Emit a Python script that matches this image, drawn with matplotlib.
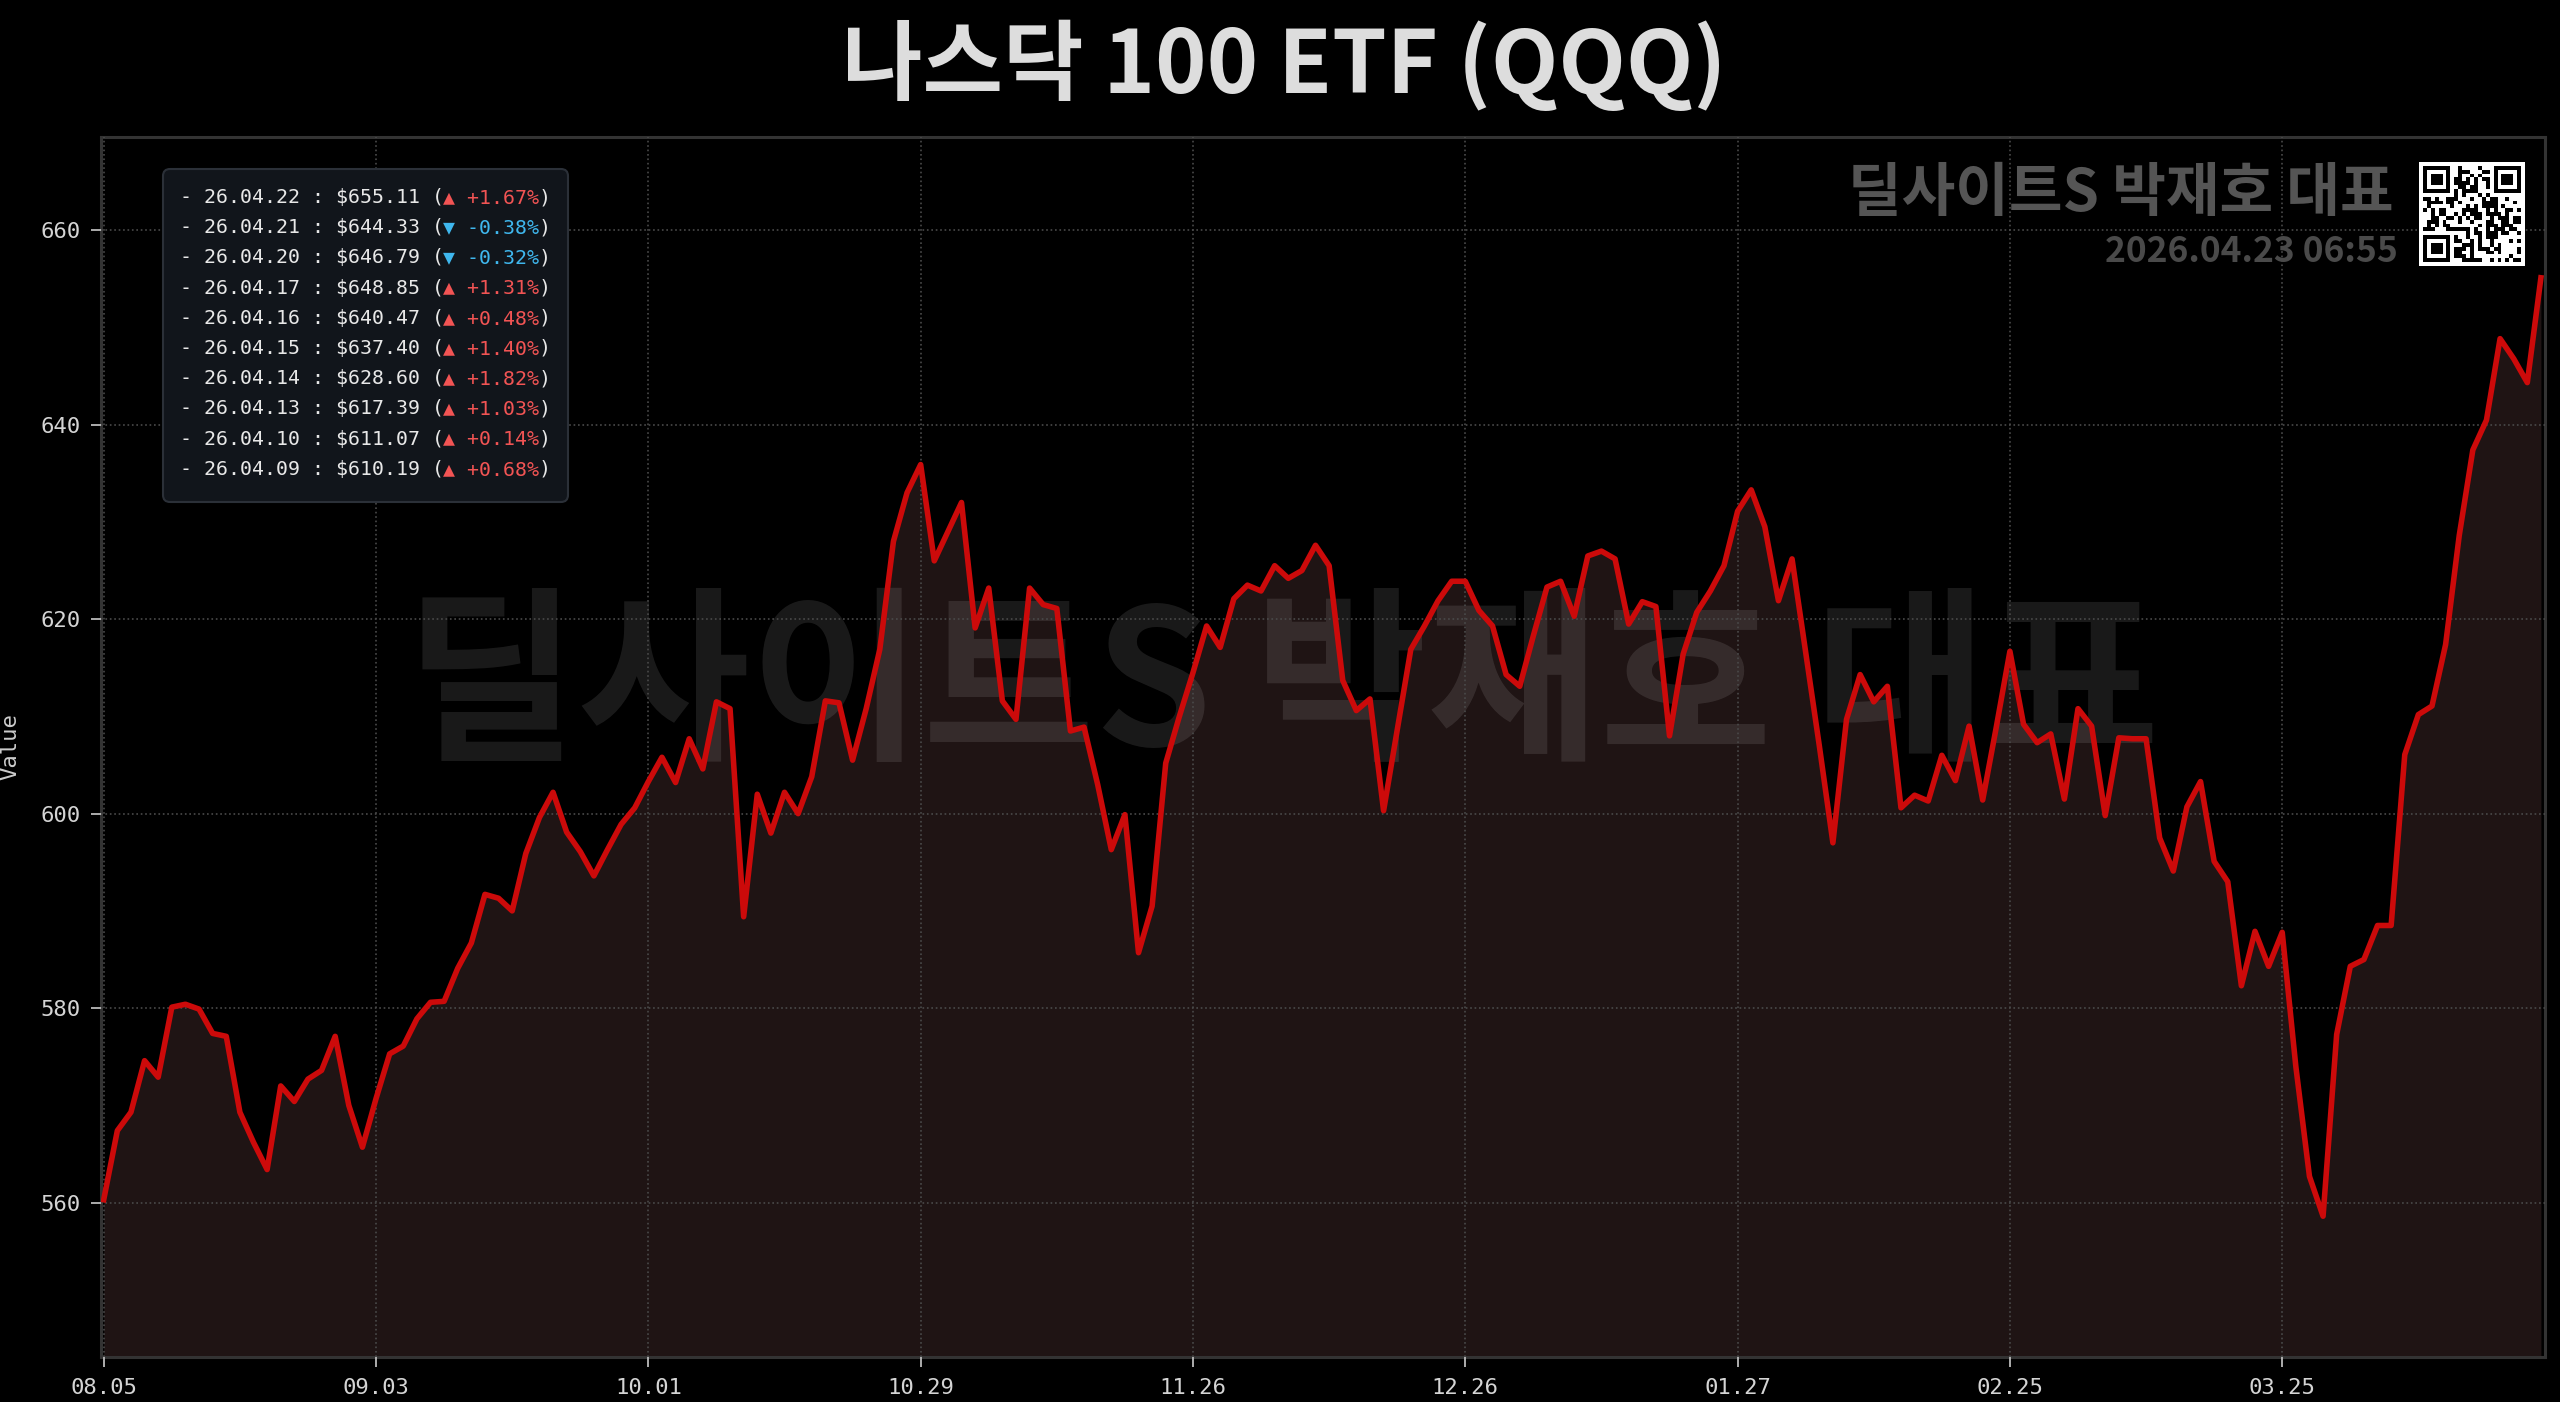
import hashlib
import numpy as np
import pandas as pd
import matplotlib
matplotlib.use('Agg')
import matplotlib.pyplot as plt
from matplotlib.patches import FancyBboxPatch
from matplotlib.transforms import IdentityTransform

plt.rcParams['font.family'] = ['DejaVu Sans Mono', 'DejaVu Sans']
KR = ['Noto Sans CJK KR', 'DejaVu Sans']

### data ###
title = '나스닥 100 ETF (QQQ)'
brand = '딜사이트S 박재호 대표'
stamp = '2026.04.23 06:55'

holidays = ['2025-09-01', '2025-11-27', '2025-12-25', '2026-01-01',
            '2026-01-19', '2026-02-16', '2026-04-03']
dates = pd.bdate_range('2025-08-05', '2026-04-22')
dates = dates[~dates.isin(pd.to_datetime(holidays))]

prices = [
    560.3, 567.4, 569.3, 574.6, 572.9, 580.1, 580.4, 579.9, 577.4, 577.1,
    569.3, 566.2, 563.4, 572.0, 570.4, 572.7, 573.6, 577.1, 570.0, 565.7,
    570.7, 575.3, 576.1, 578.9, 580.6, 580.7, 584.1, 586.7, 591.7, 591.3,
    590.0, 595.9, 599.6, 602.2, 598.1, 596.1, 593.6, 596.3, 598.9, 600.6,
    603.3, 605.8, 603.2, 607.7, 604.6, 611.5, 610.8, 589.4, 602.0, 598.0,
    602.2, 600.0, 603.8, 611.6, 611.4, 605.5, 610.8, 616.9, 628.0, 633.0,
    635.9, 626.0, 629.0, 632.0, 619.1, 623.2, 611.6, 609.7, 623.2, 621.5,
    621.1, 608.5, 608.9, 603.0, 596.3, 599.9, 585.7, 590.5, 605.2, 610.0,
    614.5, 619.3, 617.1, 622.1, 623.5, 622.9, 625.5, 624.2, 625.0, 627.6,
    625.5, 613.7, 610.6, 611.8, 600.3, 608.6, 616.9, 619.3, 621.9, 623.9,
    623.9, 620.9, 619.3, 614.3, 613.1, 618.3, 623.3, 623.9, 620.3, 626.5,
    627.0, 626.2, 619.5, 621.8, 621.3, 608.0, 616.4, 620.7, 622.9, 625.5,
    631.1, 633.3, 629.5, 621.9, 626.2, 616.6, 607.0, 597.0, 609.7, 614.3,
    611.5, 613.1, 600.6, 601.9, 601.3, 606.0, 603.4, 609.0, 601.4, 608.9,
    616.7, 609.2, 607.3, 608.2, 601.5, 610.8, 609.0, 599.8, 607.8, 607.7,
    607.7, 597.5, 594.1, 600.7, 603.3, 595.1, 593.0, 582.3, 587.9, 584.3,
    587.8, 574.0, 562.7, 558.6, 577.3, 584.3, 585.0, 588.5, 588.5, 606.07,
    610.19, 611.07, 617.39, 628.60, 637.40, 640.47, 648.85, 646.79, 644.33, 655.11,
]

xtick_idx = [0, 20, 40, 60, 80, 100, 120, 140, 160]
yticks = [560, 580, 600, 620, 640, 660]

W, H = 2560, 1402
fig = plt.figure(figsize=(W / 100, H / 100), dpi=100, facecolor='black')
ax = fig.add_axes([101 / W, 1 - 1357 / H, (2545 - 101) / W, (1357 - 137) / H])
ax.set_facecolor('black')

x = np.arange(len(prices))
p = np.array(prices)
pad = (p.max() - p.min()) * 0.15
ylo, yhi = p.min() - pad, p.max() + pad

ax.fill_between(x, p, ylo, color='#3e2929', alpha=0.5, lw=0, zorder=1)
ax.plot(x, p, color='#cc0a0a', lw=4.0, zorder=3, solid_joinstyle='round')

# big watermark in the middle
ax.text(1282 / W, 1 - 690 / H, brand, transform=fig.transFigure, ha='center', va='center',
        fontsize=135, weight='bold', color='white', alpha=0.1, family=KR, zorder=2, clip_on=False)

ax.set_xlim(-0.2, len(prices) - 1 + 0.3)
ax.set_ylim(ylo, yhi)
ax.set_xticks(xtick_idx)
ax.set_xticklabels([dates[i].strftime('%m.%d') for i in xtick_idx])
ax.set_yticks(yticks)
ax.set_axisbelow(False)
ax.grid(True, color='#4a4a4a', ls=':', lw=1.2, zorder=2.5)
ax.tick_params(colors='#bbbbbb', labelcolor='#d4d4d4', labelsize=16, length=7, width=1.3, pad=8)
for s in ax.spines.values():
    s.set_color('#333333')
    s.set_linewidth(2.2)
ax.set_ylabel('Value', color='#cccccc', fontsize=16)
ax.yaxis.set_label_coords((20 - 101) / 2444, 0.5)

# title and corner marks
fig.text(1284 / W, 1 - 66 / H, title, ha='center', va='center', fontsize=63,
         weight='black', color='#dddddd', family=KR)
fig.text(2394 / W, 1 - 194 / H, brand, ha='right', va='center', fontsize=42,
         weight='bold', color='#555555', family=KR)
fig.text(2398 / W, 1 - 251 / H, stamp, ha='right', va='center', fontsize=25.5,
         weight='bold', color='#4a4a4a', family=KR)

# recent price box
box = FancyBboxPatch((163, H - 502), 405, 333, boxstyle='round,pad=0,rounding_size=7',
                     transform=IdentityTransform(), facecolor='#11151b', edgecolor='#2b3038',
                     lw=1.5, zorder=4)
fig.patches.append(box)
box.set_figure(fig)

fs = 14.3
cw = 0.6021 * fs * 100 / 72  # mono advance in pixels
for k in range(10):
    i = len(prices) - 1 - k
    d = dates[i].strftime('%y.%m.%d')
    chg = (prices[i] / prices[i - 1] - 1) * 100
    prefix = f'- {d} : ${prices[i]:.2f} ('
    if chg >= 0:
        col_txt, col = f'▲ +{chg:.2f}%', '#f25454'
    else:
        col_txt, col = f'▼ {chg:.2f}%', '#3fb7ee'
    yb = 1 - (203 + 30.2 * k) / H
    x0 = 180
    fig.text(x0 / W, yb, prefix, ha='left', va='baseline', fontsize=fs, color='#e8e8e8', zorder=5)
    x1 = x0 + len(prefix) * cw
    fig.text(x1 / W, yb, col_txt, ha='left', va='baseline', fontsize=fs, color=col, zorder=5)
    x2 = x1 + len(col_txt) * cw
    fig.text(x2 / W, yb, ')', ha='left', va='baseline', fontsize=fs, color='#e8e8e8', zorder=5)

# QR-like badge
n = 25
bits = ''.join(bin(b)[2:].zfill(8) for k in range(3)
               for b in hashlib.sha256((stamp + str(k)).encode()).digest())
qr = np.array([int(c) for c in bits[:n * n]]).reshape(n, n)
for r0, c0 in [(0, 0), (0, n - 7), (n - 7, 0)]:
    f = np.zeros((7, 7), int)
    f[0, :] = f[-1, :] = f[:, 0] = f[:, -1] = 1
    f[2:5, 2:5] = 1
    qr[r0:r0 + 7, c0:c0 + 7] = f
    if r0 == 0 and c0 == 0:
        qr[7, :8] = 0; qr[:8, 7] = 0
    elif c0 > 0:
        qr[7, n - 8:] = 0; qr[:8, n - 8] = 0
    else:
        qr[n - 8, :8] = 0; qr[n - 8:, 7] = 0
qr = np.pad(qr, 1)
axq = fig.add_axes([2419 / W, 1 - 266 / H, 106 / W, 104 / H])
axq.imshow(1 - qr, cmap='gray', vmin=0, vmax=1, interpolation='nearest', aspect='auto')
axq.axis('off')

fig.savefig('out.png', dpi=100, facecolor='black')
